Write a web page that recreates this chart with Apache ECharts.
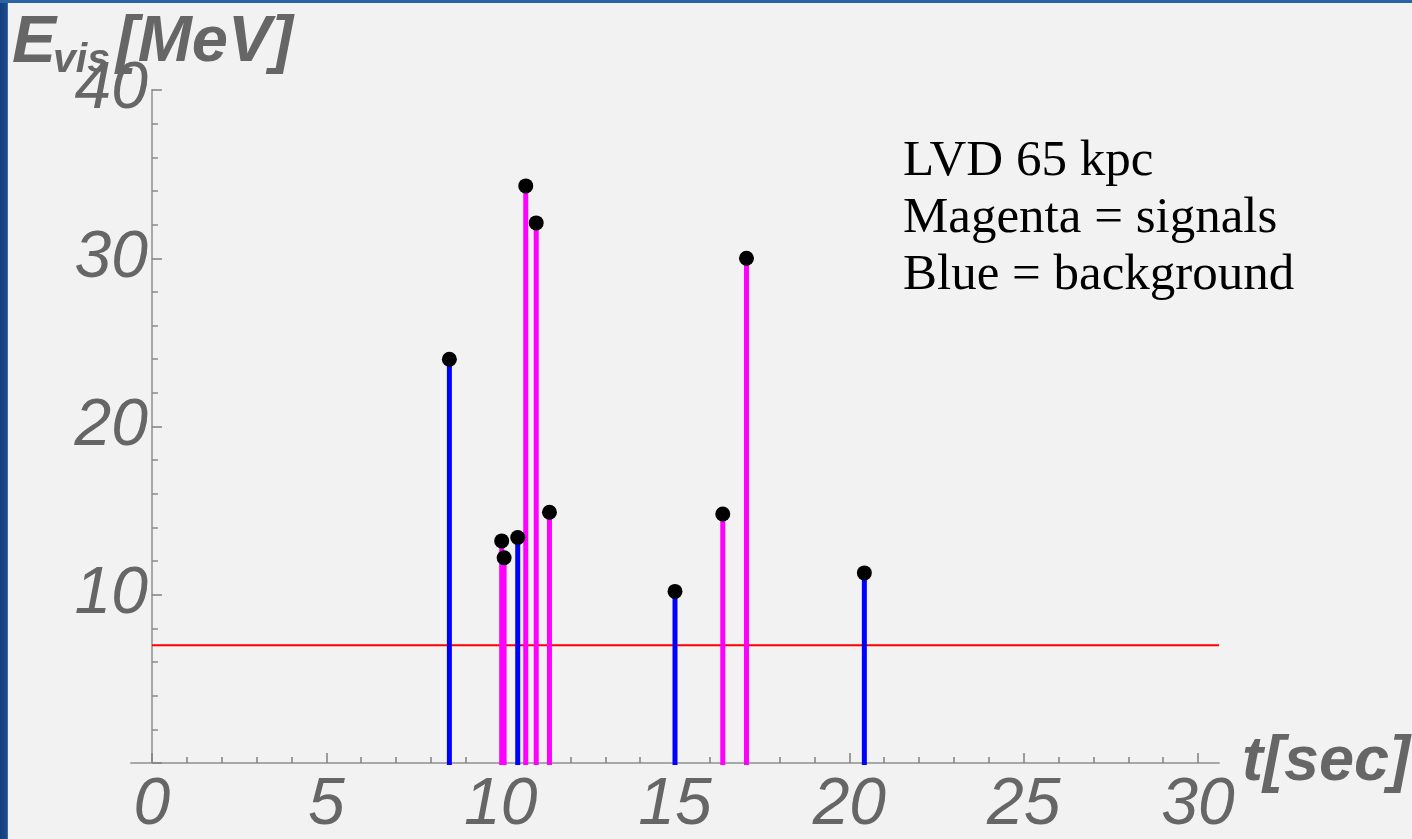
<!DOCTYPE html>
<html>
<head>
<meta charset="utf-8">
<script src="https://cdn.jsdelivr.net/npm/echarts@6/dist/echarts.min.js"></script>
<style>
  html, body { margin: 0; padding: 0; }
  #chart {
    width: 1412px; height: 839px;
    background:
      linear-gradient(#2c62a4, #2c62a4) top left / 100% 3px no-repeat,
      linear-gradient(90deg, #143f7e, #1b4a8c 85%, #5d7fb0) top left / 8px 100% no-repeat,
      #f2f2f2;
  }
</style>
</head>
<body>
<div id="chart"></div>
<script>
// Event times (s) and visible energies (MeV)
const signalTimes = [10.03, 10.10, 10.72, 11.02, 11.40, 16.37, 17.05];
const signalEnergies = [13.2, 12.2, 34.3, 32.1, 14.9, 14.8, 30.0];
const backgroundTimes = [8.53, 10.49, 15.0, 20.43];
const backgroundEnergies = [24.0, 13.4, 10.2, 11.3];

// Energy threshold line
const thresholdEnergy = 7;
const thresholdSpan = [0, 30.6];

// Axis ticks
const xMajorTicks = [0, 5, 10, 15, 20, 25, 30];
const xMinorTicks = [1, 2, 3, 4, 6, 7, 8, 9, 11, 12, 13, 14, 16, 17, 18, 19, 21, 22, 23, 24, 26, 27, 28, 29];
const yLabelTicks = [10, 20, 30, 40];
const xRange = [-0.6, 30.6];
const yRange = [0, 40];
const yStep = 10;

const annotationLines = ['LVD 65 kpc', 'Magenta = signals', 'Blue = background'];

const pairs = (xs, ys) => xs.map((x, i) => [x, ys[i]]);
const signalData = pairs(signalTimes, signalEnergies);
const backgroundData = pairs(backgroundTimes, backgroundEnergies);

const GRID_LEFT = 131, GRID_RIGHT = 193;
const plotWidth = 1412 - GRID_LEFT - GRID_RIGHT;
// shift the energy axis so it sits on t = 0
const yAxisOffset = -(0 - xRange[0]) / (xRange[1] - xRange[0]) * plotWidth;

const labelFont = {
  fontFamily: 'Liberation Sans, Arial, sans-serif',
  fontStyle: 'italic',
  fontSize: 66,
  color: '#666'
};
const titleFont = 'Liberation Sans, Arial, sans-serif';

function stemSeries(name, data, color) {
  return {
    name: name,
    type: 'custom',
    xAxisIndex: 0,
    yAxisIndex: 0,
    data: data,
    encode: { x: 0, y: 1 },
    renderItem: function (params, api) {
      const x = api.value(0), y = api.value(1);
      const base = api.coord([x, 0]);
      const top = api.coord([x, y]);
      return {
        type: 'line',
        shape: { x1: base[0], y1: base[1] + 2, x2: top[0], y2: top[1] },
        style: { stroke: color, lineWidth: 5 }
      };
    },
    z: 3
  };
}

const chart = echarts.init(document.getElementById('chart'), null, { renderer: 'canvas' });

chart.setOption({
  animation: false,
  backgroundColor: 'transparent',
  grid: { left: GRID_LEFT, right: GRID_RIGHT, top: 90, bottom: 76, containLabel: false },
  xAxis: [
    {
      type: 'value',
      min: xRange[0], max: xRange[1],
      position: 'bottom',
      axisLine: { show: true, onZero: false, lineStyle: { color: '#a8a8a8', width: 2 } },
      axisTick: { show: true, inside: true, length: 10, customValues: xMajorTicks, lineStyle: { color: '#808080', width: 1.5 } },
      axisLabel: Object.assign({ customValues: xMajorTicks, margin: 10 }, labelFont),
      splitLine: { show: false }
    },
    {
      type: 'value',
      min: xRange[0], max: xRange[1],
      position: 'bottom',
      axisLine: { show: false },
      axisTick: { show: true, inside: true, length: 6, customValues: xMinorTicks, lineStyle: { color: '#808080', width: 1.5 } },
      axisLabel: { show: false },
      splitLine: { show: false }
    }
  ],
  yAxis: {
    type: 'value',
    min: yRange[0], max: yRange[1], interval: yStep,
    position: 'left',
    offset: yAxisOffset,
    axisLine: { show: true, onZero: false, lineStyle: { color: '#a8a8a8', width: 2 } },
    axisTick: { show: true, inside: true, length: 10, lineStyle: { color: '#808080', width: 1.5 } },
    minorTick: { show: true, splitNumber: 5, length: 6, lineStyle: { color: '#8a8a8a', width: 1.5 } },
    axisLabel: Object.assign({ margin: 4, customValues: yLabelTicks }, labelFont),
    splitLine: { show: false }
  },
  series: [
    {
      name: 'threshold',
      type: 'line',
      data: thresholdSpan.map(t => [t, thresholdEnergy]),
      symbol: 'none',
      lineStyle: { color: '#ff0000', width: 2 },
      z: 2,
      silent: true
    },
    stemSeries('background', backgroundData, '#0000ff'),
    stemSeries('signals', signalData, '#ff00ff'),
    {
      name: 'events',
      type: 'scatter',
      data: backgroundData.concat(signalData),
      symbol: 'circle',
      symbolSize: 15,
      itemStyle: { color: '#000', opacity: 1 },
      z: 5
    }
  ],
  graphic: [
    {
      type: 'text', z: 10, position: [12, 11],
      style: { text: 'E', fontSize: 66, fontWeight: 'bold', fontStyle: 'italic', fontFamily: titleFont, fill: '#666' }
    },
    {
      type: 'text', z: 10, position: [53, 40],
      style: { text: 'vis', fontSize: 41, fontWeight: 'bold', fontStyle: 'italic', fontFamily: titleFont, fill: '#666' }
    },
    {
      type: 'text', z: 10, position: [116, 11],
      style: { text: '[MeV]', fontSize: 65, fontWeight: 'bold', fontStyle: 'italic', fontFamily: titleFont, fill: '#666' }
    },
    {
      type: 'text', z: 10, position: [1242, 731],
      style: { text: 't[sec]', fontSize: 63, fontWeight: 'bold', fontStyle: 'italic', fontFamily: titleFont, fill: '#666' }
    },
    {
      type: 'text', z: 10, position: [903, 133],
      style: { text: annotationLines.join('\n'), fontSize: 51, lineHeight: 57,
               fontFamily: 'Liberation Serif, Times New Roman, serif', fill: '#000' }
    }
  ]
});
</script>
</body>
</html>
